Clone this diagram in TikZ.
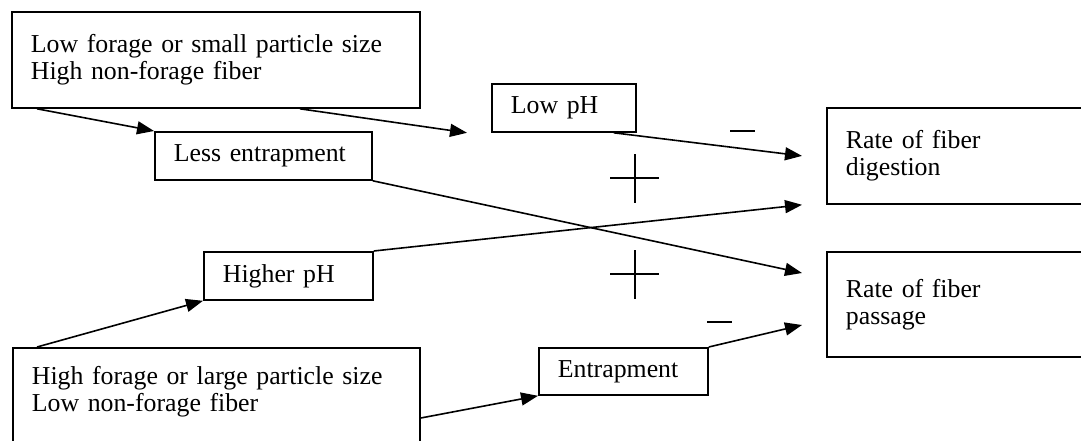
\documentclass[tikz,border=0pt]{standalone}
\usepackage{fontspec}
\setmainfont{Liberation Serif}
\usepackage{tikz}
\usetikzlibrary{arrows.meta}

\begin{document}
\begin{tikzpicture}[
    x=1pt, y=-1pt,
    box/.style={rectangle, draw=black, line width=1.8pt, anchor=north west,
                align=left, inner xsep=19pt, inner ysep=0pt,
                font=\fontsize{25.8}{27}\selectfont},
    arr/.style={-{Triangle[length=17pt, width=13pt]}, line width=1.6pt, color=black},
    sign/.style={line width=1.4pt, color=black}
]
\useasboundingbox (0,0) rectangle (1081,441);
\clip (0,0) rectangle (1081,441);

% Diets
\node[box, text width=370pt, minimum height=96pt] (lowfor) at (11,11)
      {Low forage or small particle size\\High non-forage fiber};
\node[box, text width=369pt, minimum height=145pt] (highfor) at (12,347)
      {High forage or large particle size\\Low non-forage fiber\\\strut\\\strut};

% Rumen conditions
\node[box, text width=179pt, minimum height=48pt] (less)   at (154,131) {Less entrapment};
\node[box, text width=106pt, minimum height=48pt] (lowph)  at (491,83)  {Low pH};
\node[box, text width=131pt, minimum height=48pt] (higher) at (203,251) {Higher pH};
\node[box, text width=131pt, minimum height=47pt] (entrap) at (538,347) {Entrapment};

% Rates
\node[box, text width=246pt, minimum height=96pt]  (digest)  at (826,107) {Rate of fiber\\digestion};
\node[box, text width=246pt, minimum height=105pt] (passage) at (826,251) {Rate of fiber\\passage};

% Arrows
\draw[arr] ([xshift=26pt]lowfor.south west)  -- (less.north west);
\draw[arr] ([xshift=289pt]lowfor.south west) -- ([xshift=-24pt]lowph.south west);
\draw[arr] ([xshift=-23pt]lowph.south east)  -- ([xshift=-24pt]digest.west);
\draw[arr] (higher.north east) -- ([xshift=-24pt]digest.south west);
\draw[arr] (less.south east)   -- ([shift={(-24pt,-22pt)}]passage.north west);
\draw[arr] ([xshift=25pt]highfor.north west) -- (higher.south west);
\draw[arr] ([yshift=-71pt]highfor.north east) -- (entrap.south west);
\draw[arr] (entrap.north east) -- ([shift={(-24pt,-74pt)}]passage.north west);

% Signs
\draw[sign] (730,131) -- (755,131);
\draw[sign] (610,178) -- (659,178) (635,154) -- (635,203);
\draw[sign] (610,274) -- (659,274) (635,250) -- (635,299);
\draw[sign] (707,322) -- (732,322);

\end{tikzpicture}
\end{document}
